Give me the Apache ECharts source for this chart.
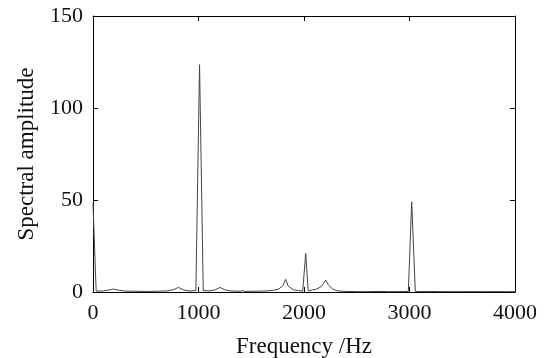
<!DOCTYPE html>
<html>
<head>
<meta charset="utf-8">
<script src="https://cdn.jsdelivr.net/npm/echarts@6/dist/echarts.min.js"></script>
<style>
html,body{margin:0;padding:0;background:#fff;}
#c{width:551px;height:358px;}
</style>
</head>
<body>
<div id="c"></div>
<script>
// Frequency (Hz) and spectral amplitude
const freqHz = [0, 30, 100, 150, 195, 240, 300, 400, 500, 600,
  700, 760, 810, 860, 920, 975, 1010, 1045, 1100, 1160,
  1205, 1250, 1300, 1400, 1420, 1440, 1500, 1600, 1700, 1760,
  1800, 1826, 1850, 1900, 1950, 1988, 2016, 2040, 2080, 2120,
  2160, 2190, 2205, 2230, 2270, 2320, 2400, 2500, 2600, 2700,
  2800, 2900, 2989, 3021, 3055, 3100, 3200, 3300, 3400, 3500,
  3600, 3700, 3800, 3900, 4000];
const amplitude = [48, 0.5, 0.6, 1.1, 1.6, 1.0, 0.5, 0.4, 0.3, 0.4,
  0.6, 1.2, 2.5, 1.1, 0.5, 0.8, 123.5, 0.8, 0.6, 1.2,
  2.5, 1.2, 0.6, 0.4, 0.8, 0.3, 0.4, 0.5, 0.8, 1.5,
  3.5, 6.9, 3.2, 1.2, 0.8, 0.5, 21, 0.6, 1.2, 1.6,
  2.8, 5.0, 6.5, 4.0, 1.6, 0.6, 0.3, 0.2, 0.2, 0.3,
  0.2, 0.2, 0.3, 49, 0.3, 0.2, 0.3, 0.2, 0.2, 0.2,
  0.2, 0.2, 0.2, 0.2, 0.2];
const xTicks = [0, 1000, 2000, 3000, 4000];
const yTicks = [0, 50, 100, 150];

const FONT = 'Liberation Serif';
const chart = echarts.init(document.getElementById('c'), null, {renderer: 'canvas'});
const axisLineStyle = {show: true, onZero: false, lineStyle: {color: '#000', width: 1}};
const tickStyle = {show: true, inside: true, length: 5, lineStyle: {color: '#000', width: 1}};
const plain = v => String(v);

chart.setOption({
  animation: false,
  backgroundColor: '#fff',
  grid: {left: 93, right: 36, top: 16, bottom: 66, containLabel: false, outerBoundsMode: 'none'},
  xAxis: [{
    type: 'value', min: xTicks[0], max: xTicks[xTicks.length - 1], interval: 1000,
    name: 'Frequency /Hz', nameLocation: 'middle', nameGap: 43,
    nameTextStyle: {fontFamily: FONT, fontSize: 23, color: '#111'},
    axisLine: axisLineStyle, axisTick: tickStyle,
    axisLabel: {fontFamily: FONT, fontSize: 22, color: '#111', margin: 10, formatter: plain},
    splitLine: {show: false}
  }, {
    type: 'value', position: 'top', min: xTicks[0], max: xTicks[xTicks.length - 1], interval: 1000,
    axisLine: axisLineStyle, axisTick: tickStyle, axisLabel: {show: false}, splitLine: {show: false}
  }],
  yAxis: [{
    type: 'value', min: yTicks[0], max: yTicks[yTicks.length - 1], interval: 50,
    name: 'Spectral amplitude', nameLocation: 'middle', nameGap: 55,
    nameTextStyle: {fontFamily: FONT, fontSize: 23, color: '#111'},
    axisLine: axisLineStyle, axisTick: tickStyle,
    axisLabel: {fontFamily: FONT, fontSize: 22, color: '#111', margin: 10, formatter: plain},
    splitLine: {show: false}
  }, {
    type: 'value', position: 'right', min: yTicks[0], max: yTicks[yTicks.length - 1], interval: 50,
    axisLine: axisLineStyle, axisTick: tickStyle, axisLabel: {show: false}, splitLine: {show: false}
  }],
  series: [{
    type: 'line',
    xAxisIndex: 0, yAxisIndex: 0,
    data: freqHz.map((f, i) => [f, amplitude[i]]),
    showSymbol: false,
    symbol: 'none',
    lineStyle: {color: '#444', width: 1},
    clip: true
  }]
});
</script>
</body>
</html>
